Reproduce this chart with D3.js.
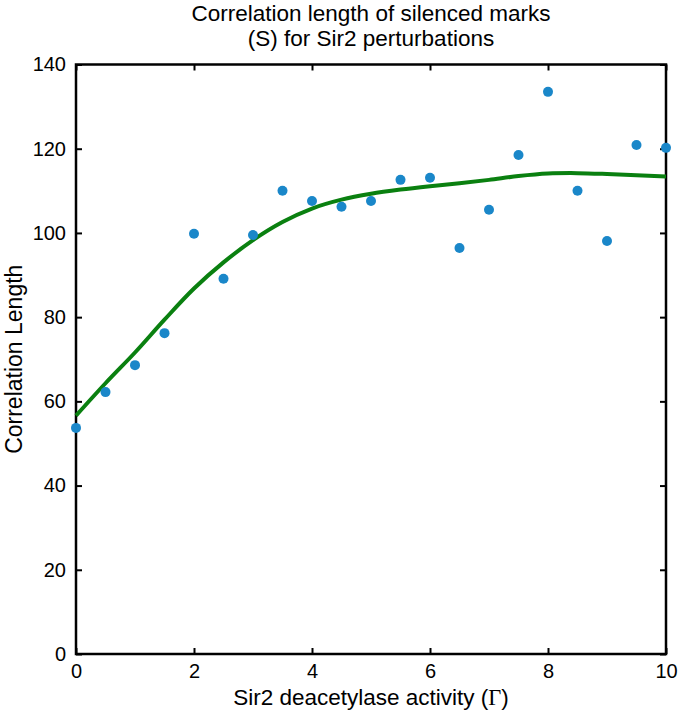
<!DOCTYPE html>
<html>
<head>
<meta charset="utf-8">
<script src="https://cdn.jsdelivr.net/npm/d3@7"></script>
<style>
  body { margin: 0; background: #fff; }
  svg { display: block; font-family: "Liberation Sans", Arial, sans-serif; }
</style>
</head>
<body>
<div id="chart"></div>
<script>
// measured points
const sirActivity = [0, 0.5, 1, 1.5, 2, 2.5, 3, 3.5, 4, 4.5, 5, 5.5, 6, 6.5, 7, 7.5, 8, 8.5, 9, 9.5, 10];
const corrLength = [53.7, 62.2, 68.6, 76.2, 99.8, 89.1, 99.5, 110, 107.6, 106.2, 107.6, 112.6, 113.1, 96.4, 105.5, 118.5, 133.5, 110, 98.1, 120.9, 120.2];

// smoothed fit (green)
const fitX = [0, 0.5, 1, 1.5, 2, 2.5, 3, 3.5, 4, 4.5, 5, 5.5, 6, 6.5, 7, 7.5, 8, 8.5, 9, 9.5, 10];
const fitY = [56.6, 64.3, 71.6, 79.4, 86.8, 93.0, 98.3, 102.6, 105.8, 107.9, 109.3, 110.3, 111.1, 111.8, 112.6, 113.5, 114.1, 114.2, 114.0, 113.7, 113.4];

const xTicks = [0, 2, 4, 6, 8, 10];
const yTicks = [0, 20, 40, 60, 80, 100, 120, 140];

const width = 681, height = 715;
const margin = {top: 64.5, right: 15, bottom: 61, left: 76};
const iw = width - margin.left - margin.right;
const ih = height - margin.top - margin.bottom;

const svg = d3.select("#chart").append("svg")
    .attr("width", width)
    .attr("height", height);

const g = svg.append("g").attr("transform", `translate(${margin.left},${margin.top})`);

const x = d3.scaleLinear().domain([0, 10]).range([0, iw]);
const y = d3.scaleLinear().domain([0, 140]).range([ih, 0]);

// axes with inward ticks (matlab style box)
const tickLen = 6;
const fontSize = 20;

g.append("g")
    .attr("transform", `translate(0,${ih})`)
    .call(d3.axisBottom(x).tickValues(xTicks).tickSize(-tickLen).tickPadding(10).tickFormat(d3.format("d")))
    .call(a => a.select(".domain").remove());

g.append("g")
    .call(d3.axisTop(x).tickValues(xTicks).tickSize(-tickLen).tickFormat(""))
    .call(a => a.select(".domain").remove());

g.append("g")
    .call(d3.axisLeft(y).tickValues(yTicks).tickSize(-tickLen).tickPadding(10).tickFormat(d3.format("d")))
    .call(a => a.select(".domain").remove());

g.append("g")
    .attr("transform", `translate(${iw},0)`)
    .call(d3.axisRight(y).tickValues(yTicks).tickSize(-tickLen).tickFormat(""))
    .call(a => a.select(".domain").remove());

g.selectAll(".tick line").attr("stroke", "#000").attr("stroke-width", 2);
g.selectAll(".tick text").attr("font-size", fontSize).attr("fill", "#000")
    .style("font-family", "'Liberation Sans', Arial, sans-serif");

g.append("rect")
    .attr("width", iw)
    .attr("height", ih)
    .attr("fill", "none")
    .attr("stroke", "#000")
    .attr("stroke-width", 2.5);

// fitted curve
const line = d3.line()
    .x((d, i) => x(fitX[i]))
    .y(d => y(d))
    .curve(d3.curveCatmullRom);

g.append("path")
    .datum(fitY)
    .attr("fill", "none")
    .attr("stroke", "#0a8010")
    .attr("stroke-width", 4)
    .attr("d", line);

// points
g.append("g")
    .selectAll("circle")
    .data(corrLength)
    .join("circle")
    .attr("cx", (d, i) => x(sirActivity[i]))
    .attr("cy", d => y(d))
    .attr("r", 5)
    .attr("fill", "#1a87c9");

// title
const title = svg.append("text")
    .attr("x", margin.left + iw / 2)
    .attr("text-anchor", "middle")
    .attr("font-size", 22.5)
    .attr("fill", "#000");
title.append("tspan").attr("x", margin.left + iw / 2).attr("y", 21).text("Correlation length of silenced marks");
title.append("tspan").attr("x", margin.left + iw / 2).attr("y", 46).text("(S) for Sir2 perturbations");

// axis labels
const xl = svg.append("text")
    .attr("x", margin.left + iw / 2)
    .attr("y", 705)
    .attr("text-anchor", "middle")
    .attr("font-size", 22.5)
    .attr("fill", "#000");
xl.append("tspan").text("Sir2 deacetylase activity (");
xl.append("tspan").style("font-family", "'Liberation Serif', 'Times New Roman', serif").text("Γ");
xl.append("tspan").text(")");

svg.append("text")
    .attr("transform", `translate(22,${margin.top + ih / 2}) rotate(-90)`)
    .attr("text-anchor", "middle")
    .attr("font-size", 23)
    .attr("fill", "#000")
    .text("Correlation Length");
</script>
</body>
</html>
